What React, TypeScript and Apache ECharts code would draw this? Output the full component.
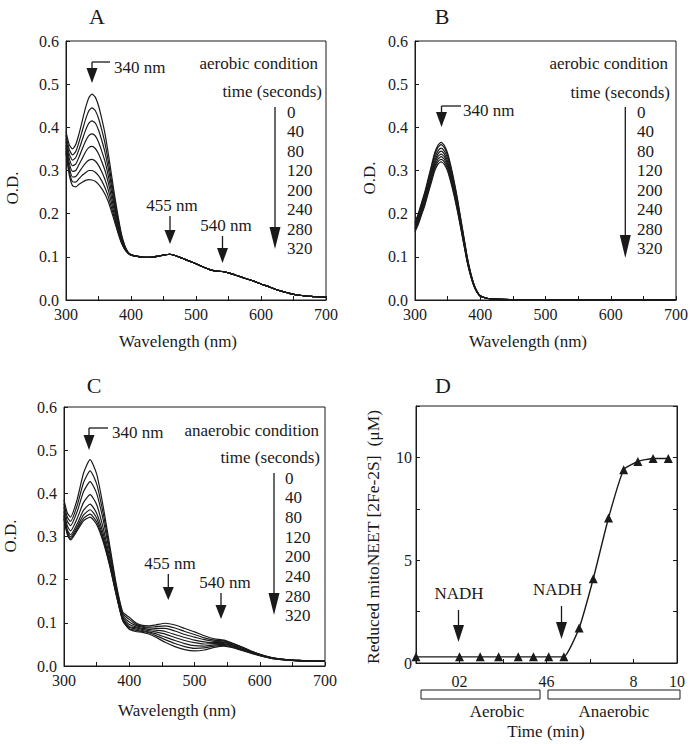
import React, { useEffect, useRef } from 'react';
import * as echarts from 'echarts';

const FONT = 'Liberation Serif, serif';
const INK = '#1a1a1a';
const ANN = 17;
const TICK = 16;

const TIMES = ['0', '40', '80', '120', '200', '240', '280', '320'];

// ---------- Panel A (aerobic, with mitoNEET) ----------
const A_WL_HEAD = [300, 305, 310, 315, 320, 325, 330, 335, 340, 345, 350, 355, 360, 365, 370, 375, 380, 385, 390, 395, 400];
const A_WL_TAIL = [410, 420, 430, 440, 450, 460, 470, 480, 490, 500, 510, 520, 530, 540, 550, 560, 570, 580, 590, 600, 610, 620, 630, 640, 650, 660, 670, 680, 690, 700];
const A_TAIL = [0.101, 0.099, 0.099, 0.101, 0.104, 0.106, 0.102, 0.096, 0.09, 0.084, 0.077, 0.071, 0.067, 0.066, 0.063, 0.058, 0.053, 0.048, 0.043, 0.037, 0.032, 0.026, 0.021, 0.017, 0.013, 0.011, 0.009, 0.008, 0.007, 0.006];
const A_0 = [0.39, 0.36, 0.35, 0.36, 0.385, 0.415, 0.445, 0.468, 0.477, 0.47, 0.45, 0.42, 0.385, 0.34, 0.29, 0.24, 0.195, 0.155, 0.128, 0.112, 0.105];
const A_40 = [0.382, 0.349, 0.336, 0.344, 0.366, 0.392, 0.418, 0.438, 0.445, 0.439, 0.421, 0.394, 0.363, 0.322, 0.276, 0.23, 0.189, 0.151, 0.126, 0.111, 0.105];
const A_80 = [0.374, 0.338, 0.324, 0.33, 0.349, 0.371, 0.393, 0.409, 0.415, 0.41, 0.394, 0.37, 0.342, 0.305, 0.264, 0.221, 0.183, 0.148, 0.125, 0.111, 0.105];
const A_120 = [0.367, 0.328, 0.311, 0.315, 0.331, 0.35, 0.368, 0.381, 0.385, 0.38, 0.366, 0.345, 0.321, 0.288, 0.251, 0.212, 0.177, 0.145, 0.123, 0.11, 0.105];
const A_200 = [0.359, 0.317, 0.298, 0.3, 0.314, 0.328, 0.343, 0.353, 0.356, 0.351, 0.339, 0.321, 0.3, 0.272, 0.238, 0.203, 0.171, 0.142, 0.122, 0.11, 0.104];
const A_240 = [0.352, 0.307, 0.285, 0.286, 0.296, 0.307, 0.317, 0.324, 0.326, 0.322, 0.312, 0.297, 0.279, 0.255, 0.225, 0.194, 0.165, 0.138, 0.12, 0.11, 0.104];
const A_280 = [0.345, 0.298, 0.274, 0.273, 0.281, 0.289, 0.295, 0.3, 0.3, 0.296, 0.288, 0.276, 0.26, 0.24, 0.214, 0.187, 0.159, 0.135, 0.119, 0.109, 0.104];
const A_320 = [0.34, 0.29, 0.265, 0.262, 0.268, 0.273, 0.277, 0.279, 0.278, 0.275, 0.268, 0.258, 0.245, 0.228, 0.205, 0.18, 0.155, 0.133, 0.118, 0.109, 0.104];

// ---------- Panel B (aerobic, NADH only) ----------
const B_WL_HEAD = [300, 305, 310, 315, 320, 325, 330, 335, 340, 345, 350, 355, 360, 365, 370, 375, 380, 385, 390, 395, 400];
const B_WL_TAIL = [410, 420, 450, 500, 600, 700];
const B_TAIL = [0.004, 0.002, 0.001, 0.001, 0.001, 0.0005];
const B_0 = [0.18, 0.2, 0.225, 0.25, 0.28, 0.31, 0.34, 0.358, 0.365, 0.358, 0.34, 0.31, 0.275, 0.235, 0.19, 0.145, 0.1, 0.065, 0.038, 0.02, 0.01];
const B_40 = [0.177, 0.197, 0.222, 0.247, 0.276, 0.306, 0.335, 0.353, 0.36, 0.353, 0.335, 0.306, 0.271, 0.232, 0.187, 0.143, 0.099, 0.064, 0.037, 0.02, 0.01];
const B_80 = [0.174, 0.193, 0.217, 0.241, 0.27, 0.299, 0.328, 0.345, 0.352, 0.345, 0.328, 0.299, 0.265, 0.227, 0.183, 0.14, 0.096, 0.063, 0.037, 0.019, 0.01];
const B_120 = [0.17, 0.189, 0.213, 0.236, 0.265, 0.293, 0.321, 0.338, 0.345, 0.338, 0.321, 0.293, 0.26, 0.222, 0.18, 0.137, 0.095, 0.061, 0.036, 0.019, 0.009];
const B_200 = [0.167, 0.185, 0.208, 0.232, 0.259, 0.287, 0.315, 0.332, 0.338, 0.332, 0.315, 0.287, 0.255, 0.218, 0.176, 0.134, 0.093, 0.06, 0.035, 0.019, 0.009];
const B_240 = [0.164, 0.182, 0.205, 0.228, 0.255, 0.282, 0.309, 0.326, 0.332, 0.326, 0.309, 0.282, 0.25, 0.214, 0.173, 0.132, 0.091, 0.059, 0.035, 0.018, 0.009];
const B_280 = [0.161, 0.179, 0.201, 0.223, 0.25, 0.277, 0.304, 0.32, 0.326, 0.32, 0.304, 0.277, 0.246, 0.21, 0.17, 0.129, 0.089, 0.058, 0.034, 0.018, 0.009];
const B_320 = [0.158, 0.175, 0.197, 0.219, 0.246, 0.272, 0.298, 0.314, 0.32, 0.314, 0.298, 0.272, 0.241, 0.206, 0.167, 0.127, 0.088, 0.057, 0.033, 0.018, 0.009];

// ---------- Panel C (anaerobic) ----------
const C_WL_HEAD = [300, 305, 310, 320, 330, 340, 350, 360, 370, 380, 390, 400];
const C_WL_TAIL = [410, 420, 430, 440, 455, 470, 485, 500, 515, 530, 545, 560, 575, 590, 605, 620, 640, 660, 680, 700];
const C_0 = [0.385, 0.355, 0.345, 0.385, 0.447, 0.478, 0.445, 0.37, 0.28, 0.19, 0.125, 0.113];
const C_40 = [0.376, 0.345, 0.335, 0.371, 0.425, 0.452, 0.422, 0.354, 0.271, 0.185, 0.121, 0.108];
const C_80 = [0.368, 0.336, 0.325, 0.357, 0.404, 0.427, 0.4, 0.339, 0.262, 0.18, 0.117, 0.102];
const C_120 = [0.358, 0.325, 0.313, 0.341, 0.379, 0.397, 0.374, 0.32, 0.251, 0.175, 0.113, 0.096];
const C_200 = [0.35, 0.316, 0.304, 0.329, 0.361, 0.375, 0.354, 0.307, 0.243, 0.171, 0.11, 0.091];
const C_240 = [0.346, 0.311, 0.299, 0.322, 0.35, 0.362, 0.343, 0.298, 0.238, 0.168, 0.108, 0.089];
const C_280 = [0.342, 0.308, 0.295, 0.317, 0.342, 0.352, 0.334, 0.292, 0.235, 0.166, 0.106, 0.086];
const C_320 = [0.34, 0.305, 0.292, 0.313, 0.336, 0.345, 0.328, 0.288, 0.232, 0.165, 0.105, 0.085];
const C_0T = [0.1, 0.094, 0.093, 0.095, 0.099, 0.095, 0.087, 0.079, 0.07, 0.063, 0.06, 0.052, 0.043, 0.033, 0.025, 0.019, 0.015, 0.013, 0.012, 0.011];
const C_40T = [0.097, 0.092, 0.09, 0.091, 0.093, 0.088, 0.08, 0.073, 0.065, 0.06, 0.058, 0.051, 0.042, 0.032, 0.025, 0.019, 0.015, 0.013, 0.012, 0.011];
const C_80T = [0.094, 0.09, 0.088, 0.087, 0.087, 0.081, 0.073, 0.067, 0.061, 0.057, 0.056, 0.049, 0.041, 0.032, 0.024, 0.019, 0.015, 0.013, 0.012, 0.011];
const C_120T = [0.091, 0.087, 0.085, 0.083, 0.08, 0.073, 0.066, 0.06, 0.056, 0.054, 0.054, 0.048, 0.04, 0.031, 0.024, 0.018, 0.015, 0.013, 0.012, 0.011];
const C_200T = [0.089, 0.085, 0.082, 0.079, 0.074, 0.066, 0.059, 0.054, 0.051, 0.052, 0.052, 0.046, 0.038, 0.03, 0.023, 0.018, 0.014, 0.012, 0.011, 0.011];
const C_240T = [0.086, 0.082, 0.079, 0.075, 0.067, 0.059, 0.052, 0.047, 0.046, 0.049, 0.05, 0.045, 0.037, 0.029, 0.023, 0.018, 0.014, 0.012, 0.011, 0.011];
const C_280T = [0.083, 0.08, 0.077, 0.071, 0.061, 0.052, 0.045, 0.041, 0.042, 0.046, 0.048, 0.043, 0.036, 0.029, 0.022, 0.017, 0.014, 0.012, 0.011, 0.011];
const C_320T = [0.08, 0.078, 0.074, 0.067, 0.055, 0.045, 0.038, 0.035, 0.037, 0.043, 0.046, 0.042, 0.035, 0.028, 0.022, 0.017, 0.014, 0.012, 0.011, 0.011];

// ---------- Panel D (time course) ----------
const D_TIME = [-2, 0, 0.95, 1.8, 2.7, 3.4, 4.1, 4.8, 5.5, 6.15, 6.85, 7.55, 8.2, 8.9, 9.6];
const D_REDUCED = [0.3, 0.3, 0.3, 0.3, 0.3, 0.3, 0.3, 0.3, 1.7, 4.1, 7.05, 9.4, 9.8, 9.95, 9.95];
const D_TICK_LABELS: Record<string, string> = { '0': '02', '4': '46', '8': '8', '10': '10' };
const D_Y_LABELS = [0, 5, 10];

const zip = (xs: number[], ys: number[]) => xs.map((x, i) => [x, ys[i]]);

const specSeries = (name: string, gi: number, data: number[][]) => ({
  name,
  type: 'line',
  xAxisIndex: gi,
  yAxisIndex: gi,
  data,
  showSymbol: false,
  symbol: 'none',
  smooth: 0.2,
  lineStyle: { color: INK, width: 1.2 },
  silent: true,
});

const specX = (gi: number) => ({
  type: 'value',
  gridIndex: gi,
  min: 300,
  max: 700,
  interval: 50,
  axisLine: { show: true, onZero: false, lineStyle: { color: INK, width: 1 } },
  axisTick: { show: true, inside: true, length: 4, lineStyle: { color: INK } },
  axisLabel: {
    formatter: (v: number) => (v % 100 === 0 ? String(v) : ''),
    color: INK,
    fontSize: TICK,
    fontFamily: FONT,
    margin: 6,
  },
  splitLine: { show: false },
});

const specY = (gi: number) => ({
  type: 'value',
  gridIndex: gi,
  min: 0,
  max: 0.6,
  interval: 0.1,
  axisLine: { show: true, onZero: false, lineStyle: { color: INK, width: 1 } },
  axisTick: { show: true, inside: true, length: 4, lineStyle: { color: INK } },
  axisLabel: {
    formatter: (v: number) => v.toFixed(1),
    color: INK,
    fontSize: TICK,
    fontFamily: FONT,
    margin: 7,
  },
  splitLine: { show: false },
});

const txt = (text: string, x: number, y: number, align = 'left', size = ANN, rotation = 0) => ({
  type: 'text',
  x,
  y,
  rotation,
  silent: true,
  style: {
    text,
    fill: INK,
    fontSize: size,
    fontFamily: FONT,
    align,
    verticalAlign: 'middle',
    textAlign: align,
    textVerticalAlign: 'middle',
  },
});

const downArrow = (x: number, y1: number, tip: number, headH = 14, headW = 11) => [
  { type: 'line', silent: true, shape: { x1: x, y1, x2: x, y2: tip - headH + 1 }, style: { stroke: INK, lineWidth: 1.3 } },
  {
    type: 'polygon',
    silent: true,
    shape: { points: [[x - headW / 2, tip - headH], [x + headW / 2, tip - headH], [x, tip]] },
    style: { fill: INK },
  },
];

const bentArrow = (x: number, y: number, xEnd: number, tip: number) => [
  { type: 'line', silent: true, shape: { x1: x, y1: y, x2: xEnd, y2: y }, style: { stroke: INK, lineWidth: 1.3 } },
  ...downArrow(x, y, tip, 15, 11),
];

const timeList = (x: number, y0: number, step: number) =>
  TIMES.map((t, i) => txt(t, x, y0 + step * i, 'left', ANN));

export default function App() {
  const ref = useRef<HTMLDivElement>(null);

  useEffect(() => {
    if (!ref.current) return;
    const chart = echarts.init(ref.current, undefined, { renderer: 'svg' });

    const aHeads = [A_0, A_40, A_80, A_120, A_200, A_240, A_280, A_320];
    const bHeads = [B_0, B_40, B_80, B_120, B_200, B_240, B_280, B_320];
    const cHeads = [C_0, C_40, C_80, C_120, C_200, C_240, C_280, C_320];
    const cTails = [C_0T, C_40T, C_80T, C_120T, C_200T, C_240T, C_280T, C_320T];

    const series: any[] = [];
    aHeads.forEach((h, i) => series.push(specSeries('A ' + TIMES[i], 0, zip(A_WL_HEAD, h).concat(zip(A_WL_TAIL, A_TAIL)))));
    bHeads.forEach((h, i) => series.push(specSeries('B ' + TIMES[i], 1, zip(B_WL_HEAD, h).concat(zip(B_WL_TAIL, B_TAIL)))));
    cHeads.forEach((h, i) => series.push(specSeries('C ' + TIMES[i], 2, zip(C_WL_HEAD, h).concat(zip(C_WL_TAIL, cTails[i])))));
    series.push({
      name: 'Reduced mitoNEET',
      type: 'line',
      xAxisIndex: 3,
      yAxisIndex: 3,
      data: zip(D_TIME, D_REDUCED),
      symbol: 'triangle',
      symbolSize: 9,
      smooth: 0.15,
      clip: false,
      itemStyle: { color: INK },
      lineStyle: { color: INK, width: 1.4 },
    });

    const gridBase = { show: true, borderColor: INK, borderWidth: 1, backgroundColor: 'transparent' };

    const graphic: any[] = [
      // panel letters
      txt('A', 97, 16, 'center', 22),
      txt('B', 442, 16, 'center', 22),
      txt('C', 94, 385, 'center', 22),
      txt('D', 443, 385, 'center', 22),
      // axis titles
      txt('O.D.', 12, 188, 'center', ANN, Math.PI / 2),
      txt('O.D.', 369, 178, 'center', ANN, Math.PI / 2),
      txt('O.D.', 10, 536, 'center', ANN, Math.PI / 2),
      txt('Wavelength (nm)', 178, 341, 'center', ANN),
      txt('Wavelength (nm)', 528, 341, 'center', ANN),
      txt('Wavelength (nm)', 177, 710, 'center', ANN),
      txt('Reduced mitoNEET [2Fe-2S]  (\u03BCM)', 373, 537, 'center', 17.5, Math.PI / 2),
      txt('Time (min)', 546, 731, 'center', ANN),
      // Panel A annotations
      ...bentArrow(92, 62, 110, 83),
      txt('340 nm', 114, 67, 'left', ANN),
      txt('aerobic condition', 318, 63, 'right', ANN),
      txt('time (seconds)', 322, 91, 'right', ANN),
      ...timeList(287, 112, 19.5),
      ...downArrow(275, 107, 249, 22, 11),
      txt('455 nm', 172, 205, 'center', ANN),
      ...downArrow(170, 216, 244, 14, 11),
      txt('540 nm', 226, 225, 'center', ANN),
      ...downArrow(222.5, 236, 263, 15, 11),
      // Panel B annotations
      ...bentArrow(441.5, 106, 461, 127),
      txt('340 nm', 463, 110, 'left', ANN),
      txt('aerobic condition', 668, 63, 'right', ANN),
      txt('time (seconds)', 670, 92, 'right', ANN),
      ...timeList(637, 112, 19.5),
      ...downArrow(625.3, 107, 258, 23, 11),
      // Panel C annotations
      ...bentArrow(89, 428, 108, 450),
      txt('340 nm', 112, 432, 'left', ANN),
      txt('anaerobic condition', 319, 430, 'right', ANN),
      txt('time (seconds)', 320, 457, 'right', ANN),
      ...timeList(285, 478, 19.7),
      ...downArrow(274, 473, 615, 22, 11),
      txt('455 nm', 170, 563, 'center', ANN),
      ...downArrow(168.3, 574, 600, 13, 11),
      txt('540 nm', 225, 582, 'center', ANN),
      ...downArrow(221, 593, 619, 14, 11),
      // Panel D annotations
      txt('NADH', 459, 593, 'center', ANN),
      ...downArrow(458.5, 610, 642, 17, 11),
      txt('NADH', 557.5, 589, 'center', ANN),
      ...downArrow(561.5, 606, 639, 17, 11),
      { type: 'rect', silent: true, shape: { x: 421, y: 690, width: 119, height: 9 }, style: { fill: '#fff', stroke: INK, lineWidth: 1 } },
      { type: 'rect', silent: true, shape: { x: 548, y: 690, width: 132, height: 9 }, style: { fill: '#fff', stroke: INK, lineWidth: 1 } },
      txt('Aerobic', 497, 711, 'center', ANN),
      txt('Anaerobic', 614, 711, 'center', ANN),
    ];

    chart.setOption({
      animation: false,
      backgroundColor: '#fff',
      grid: [
        { ...gridBase, left: 66, top: 41, width: 260, height: 259 },
        { ...gridBase, left: 415, top: 41, width: 261, height: 259 },
        { ...gridBase, left: 64, top: 407, width: 261, height: 259 },
        { ...gridBase, left: 416, top: 406, width: 261, height: 257 },
      ],
      xAxis: [
        specX(0),
        specX(1),
        specX(2),
        {
          type: 'value',
          gridIndex: 3,
          min: -2,
          max: 10,
          interval: 2,
          axisLine: { show: true, onZero: false, lineStyle: { color: INK } },
          axisTick: { show: true, inside: true, length: 4, lineStyle: { color: INK } },
          axisLabel: {
            formatter: (v: number) => D_TICK_LABELS[String(v)] ?? '',
            color: INK,
            fontSize: TICK,
            fontFamily: FONT,
            margin: 10,
          },
          splitLine: { show: false },
        },
      ],
      yAxis: [
        specY(0),
        specY(1),
        specY(2),
        {
          type: 'value',
          gridIndex: 3,
          min: 0,
          max: 12.5,
          interval: 2.5,
          axisLine: { show: true, onZero: false, lineStyle: { color: INK } },
          axisTick: { show: true, inside: true, length: 4, lineStyle: { color: INK } },
          axisLabel: {
            formatter: (v: number) => (D_Y_LABELS.includes(v) ? String(v) : ''),
            color: INK,
            fontSize: TICK,
            fontFamily: FONT,
            margin: 4,
          },
          splitLine: { show: false },
        },
        {
          type: 'value',
          gridIndex: 3,
          position: 'right',
          min: 0,
          max: 12.5,
          interval: 2.5,
          axisLine: { show: true, onZero: false, lineStyle: { color: INK } },
          axisTick: { show: true, inside: true, length: 4, lineStyle: { color: INK } },
          axisLabel: { show: false },
          splitLine: { show: false },
        },
      ],
      series,
      graphic,
    });

    return () => chart.dispose();
  }, []);

  return (
    <div
      ref={ref}
      style={{ position: 'absolute', left: 0, top: 0, width: 693, height: 744, background: '#fff' }}
    />
  );
}
